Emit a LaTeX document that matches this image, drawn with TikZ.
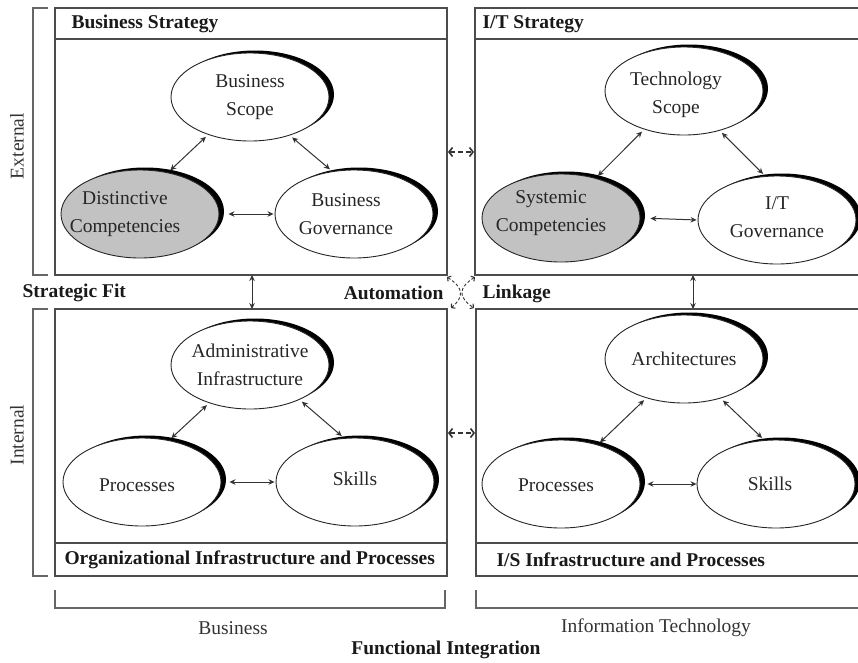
\documentclass[tikz,border=0pt]{standalone}
\usepackage{fontspec}
\setmainfont{Liberation Serif}
\usetikzlibrary{shapes.geometric,arrows.meta,calc}
\begin{document}
\begin{tikzpicture}[x=1pt,y=-1pt,
  boxline/.style={draw=black!70, line width=1.4pt},
  bracket/.style={draw=black!60, line width=1.4pt},
  oval/.style={ellipse, draw=black!85, line width=0.9pt, fill=white, inner sep=0pt, minimum width=158pt, minimum height=88pt},
  grayoval/.style={oval, fill=black!24},
  ovaltext/.style={align=center, font=\fontsize{19.5}{28}\selectfont, text=black!85},
  shadow/.style={fill=black},
  conn/.style={<->, >={Stealth[length=6pt,width=5.5pt]}, line width=1pt, draw=black!80, shorten <=3pt, shorten >=3pt},
  vconn/.style={<->, >={Stealth[length=6pt,width=5.5pt]}, line width=1pt, draw=black!80},
  dconn/.style={<->, >={Straight Barb[length=3.5pt,width=9pt,line width=1.6pt]}, dash pattern=on 5pt off 3pt, line width=1.3pt, draw=black!80},
  cconn/.style={<->, >={Straight Barb[length=2.5pt,width=6pt,line width=1.1pt]}, dash pattern=on 3pt off 2pt, line width=0.9pt, draw=black!80},
  hdr/.style={font=\bfseries\fontsize{19.5}{22}\selectfont, text=black!90},
  lbl/.style={font=\fontsize{19.5}{22}\selectfont, text=black!80},
]
\useasboundingbox (0,0) rectangle (858,662);
\clip (0,0) rectangle (858,662);

% ---------- boxes ----------
\draw[boxline] (55,8) rectangle (447,275);
\draw[boxline] (55,39) -- (447,39);
\draw[boxline] (475,8) rectangle (875,275);
\draw[boxline] (475,39) -- (875,39);
\draw[boxline] (55,309) rectangle (447,576);
\draw[boxline] (55,543) -- (447,543);
\draw[boxline] (476,309) rectangle (875,576);
\draw[boxline] (476,543) -- (875,543);

% ---------- brackets ----------
\draw[bracket] (48,8) -- (33,8) -- (33,275) -- (48,275);
\draw[bracket] (48,309) -- (33,309) -- (33,576) -- (48,576);
\draw[bracket] (55,590) -- (55,608) -- (445,608) -- (445,590);
\draw[bracket] (476,590) -- (476,608) -- (875,608);

% ---------- titles ----------
\node[hdr, anchor=west] (tBS) at (68,24) {Business Strategy};
\node[hdr, anchor=west] (tIT) at (479,24) {I/T Strategy};
\node[hdr, anchor=west] (tOI) at (61,560) {Organizational Infrastructure and Processes};
\node[hdr, anchor=west] (tIS) at (493,560) {I/S Infrastructure and Processes};
\node[hdr, anchor=west] (tSF) at (19,293) {Strategic Fit};
\node[hdr, anchor=east] (tAU) at (447,293) {Automation};
\node[hdr, anchor=west] (tLK) at (479,294) {Linkage};
\node[lbl, rotate=90] (tEX) at (17,146) {External};
\node[lbl, rotate=90] (tIN) at (17,435) {Internal};
\node[lbl] (tBU) at (233,628) {Business};
\node[lbl] (tITc) at (656,628) {Information Technology};
\node[hdr] (tFI) at (446,650) {Functional Integration};

% ---------- top-left ovals ----------
\fill[shadow] (255,94.5) ellipse [x radius=79, y radius=44];
\node[oval, label={[ovaltext]center:{Business\\Scope}}] (bs) at (250,97) {};
\fill[shadow] (145,211.5) ellipse [x radius=79, y radius=44];
\node[grayoval, label={[ovaltext, xshift=-15pt]center:{Distinctive\\Competencies}}] (dc) at (140,214) {};
\fill[shadow] (359,211.5) ellipse [x radius=79, y radius=44];
\node[oval, label={[ovaltext, xshift=-8pt]center:{Business\\Governance}}] (bg) at (354,214) {};

\draw[conn] (bs.222) -- (dc.56);
\draw[conn] (bs.316) -- (bg.117);
\draw[conn, shorten <=9pt, shorten >=1pt] (dc.east) -- (bg.west);

% ---------- top-right ovals ----------
\fill[shadow] (689,88.5) ellipse [x radius=79, y radius=44];
\node[oval, label={[ovaltext, xshift=-8pt, yshift=-4pt]center:{Technology\\Scope}}] (ts) at (684,91) {};
\fill[shadow] (566,215.5) ellipse [x radius=79, y radius=44];
\node[grayoval, label={[ovaltext, xshift=-10pt, yshift=5pt]center:{Systemic\\Competencies}}] (sc) at (561,218) {};
\fill[shadow] (782,217.5) ellipse [x radius=79, y radius=44];
\node[oval, label={[ovaltext, yshift=3pt]center:{I/T\\Governance}}] (itg) at (777,220) {};

\draw[conn] (ts.224) -- (sc.49);
\draw[conn] (ts.312) -- (itg.105);
\draw[conn, shorten <=10pt, shorten >=1pt] (sc.east) -- (itg.west);

% ---------- bottom-left ovals ----------
\fill[shadow] (255,362.5) ellipse [x radius=79, y radius=44];
\node[oval, label={[ovaltext]center:{Administrative\\Infrastructure}}] (ai) at (250,365) {};
\fill[shadow] (147,479.5) ellipse [x radius=79, y radius=44];
\node[oval, label={[ovaltext, xshift=-5pt, yshift=-3pt]center:{Processes}}] (pl) at (142,482) {};
\fill[shadow] (360,479.5) ellipse [x radius=79, y radius=44];
\node[oval, label={[ovaltext, yshift=3pt]center:{Skills}}] (sl) at (355,482) {};

\draw[conn] (ai.223) -- (pl.57);
\draw[conn] (ai.325) -- (sl.104);
\draw[conn, shorten <=8pt, shorten >=1pt] (pl.east) -- (sl.west);

% ---------- bottom-right ovals ----------
\fill[shadow] (689,356.5) ellipse [x radius=79, y radius=44];
\node[oval, label={[ovaltext]center:{Architectures}}] (ar) at (684,359) {};
\fill[shadow] (566,481.5) ellipse [x radius=79, y radius=44];
\node[oval, label={[ovaltext, xshift=-5pt, yshift=-1pt]center:{Processes}}] (pr) at (561,484) {};
\fill[shadow] (781,481.5) ellipse [x radius=79, y radius=44];
\node[oval, label={[ovaltext, xshift=-6pt]center:{Skills}}] (sr) at (776,484) {};

\draw[conn] (ar.226) -- (pr.47);
\draw[conn] (ar.313) -- (sr.105);
\draw[conn, shorten <=7pt, shorten >=0pt] (pr.east) -- (sr.west);

% ---------- links between boxes ----------
\coordinate (vlT) at (252,275);
\coordinate (vlB) at (252,309);
\coordinate (vrT) at (693,275);
\coordinate (vrB) at (693,309);
\draw[vconn] (vlT) -- (vlB);
\draw[vconn] (vrT) -- (vrB);

\coordinate (hTl) at (448,152);
\coordinate (hTr) at (474,152);
\coordinate (hBl) at (448,433);
\coordinate (hBr) at (475,433);
\draw[dconn] (hTl) -- (hTr);
\draw[dconn] (hBl) -- (hBr);

\coordinate (cUL) at (447,277);
\coordinate (cLL) at (451,308);
\coordinate (cUR) at (475,277);
\coordinate (cLR) at (474,308);
\draw[cconn] (cUL) .. controls (464,288) and (464,297) .. (cLL);
\draw[cconn] (cUR) .. controls (458,288) and (458,297) .. (cLR);
\end{tikzpicture}
\end{document}
